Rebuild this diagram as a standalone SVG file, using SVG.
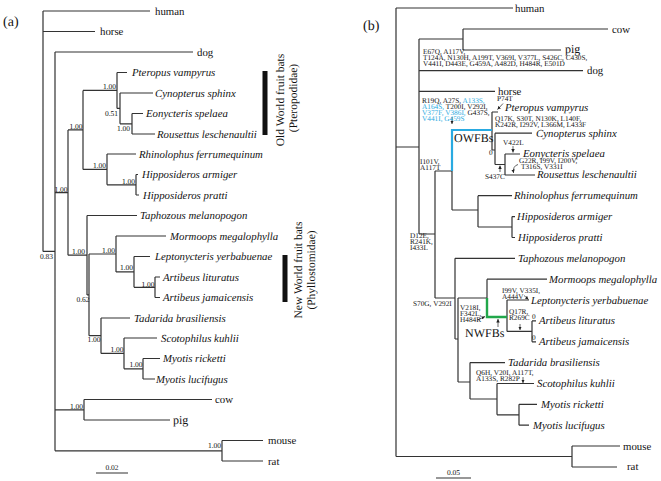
<svg xmlns="http://www.w3.org/2000/svg" width="661" height="481" viewBox="0 0 661 481">
<defs>
<marker id="ah" viewBox="0 0 6 6" refX="6" refY="3" markerUnits="userSpaceOnUse" markerWidth="3.5" markerHeight="3.5" orient="auto"><path d="M0,0 L6,3 L0,6 z" fill="#222"/></marker>
</defs>
<style>
text{font-family:"Liberation Serif","Times New Roman",serif;fill:#111;text-rendering:geometricPrecision}
.sp{font-size:10.8px;font-style:italic}
.cn{font-size:10.8px}
.pg{font-size:12px}
.bs{font-size:7.5px}
.bsr{font-size:7.5px;text-anchor:end}
.mu{font-size:7.3px}
.bl{fill:#29aae1}
.pl{font-size:14px}
.cl{font-size:11.5px;text-anchor:middle}
.big{font-size:12px}
.br{stroke:#333;stroke-width:1.2;fill:none}
.ow{stroke:#29aae1;stroke-width:2.2;fill:none}
.nw{stroke:#21a74a;stroke-width:2.4;fill:none}
.ar{stroke:#222;stroke-width:0.7;fill:none;marker-end:url(#ah)}
</style>
<rect width="661" height="481" fill="#fff"/>

<!-- ================= PANEL A ================= -->
<g id="a-connectors">
<path class="br" d="M43 11V251.4M43 11H150M43 31.5H95M43 251.4H55
M55 52V450.8M55 52H193M55 192.6H68M55 409.8H84M55 450.8H222
M68 129.9V255.2M68 129.9H83M68 255.2H87
M83 90.4V169.4M83 90.4H117M83 169.4H107
M117 72.5V108.4M117 72.5H127M117 108.4H120
M120 93V123.8M120 93H153M120 123.8H132
M132 113.5V134M132 113.5H143M132 134H155
M107 154V184.8M107 154H136M107 184.8H136
M136 174.5V195M136 174.5H138M136 195H139
M87 215.5V294.9M87 215.5H137M87 294.9H89
M89 254V335.7M89 254H116M89 335.7H101
M116 236V271.9M116 236H166M116 271.9H134
M134 256.5V287.3M134 256.5H150M134 287.3H155
M155 277V297.5M155 277H160M155 297.5H160
M101 318V353.4M101 318H130M101 353.4H124
M124 338V368.8M124 338H157M124 368.8H143
M143 358.5V379M143 358.5H160M143 379H155
M84 399.5V420M84 399.5H212M84 420H170
M222 440.5V461M222 440.5H263M222 461H263
M96 473H128"/>
</g>
<g id="a-support">
<text class="bsr" x="130" y="131">1.00</text>
<text class="bsr" x="118" y="116">0.51</text>
<text class="bsr" x="116" y="89">1.00</text>
<text class="bsr" x="135" y="183.5">1.00</text>
<text class="bsr" x="106" y="168">1.00</text>
<text class="bsr" x="82.5" y="129">1.00</text>
<text class="bsr" x="154.5" y="286.5">1.00</text>
<text class="bsr" x="133" y="270">1.00</text>
<text class="bsr" x="115" y="253">1.00</text>
<text class="bsr" x="142.5" y="367">1.00</text>
<text class="bsr" x="123.5" y="352">1.00</text>
<text class="bsr" x="100.5" y="341.5">1.00</text>
<text class="bsr" x="89.5" y="302">0.62</text>
<text class="bsr" x="85" y="253.5">1.00</text>
<text class="bsr" x="67.5" y="191.5">1.00</text>
<text class="bsr" x="83" y="408.5">1.00</text>
<text class="bsr" x="221" y="448">1.00</text>
<text class="bsr" x="53" y="258.5">0.83</text>
<text class="bs" x="112" y="470" text-anchor="middle">0.02</text>
</g>
<text id="label-a" class="pl" x="3" y="26">(a)</text>
<g id="a-human"><text class="cn" x="155" y="14.5">human</text></g>
<g id="a-horse"><text class="cn" x="100" y="35">horse</text></g>
<g id="a-dog"><text class="cn" x="197" y="55.5">dog</text></g>
<g id="a-pteropus"><text class="sp" x="132" y="76">Pteropus vampyrus</text></g>
<g id="a-cynopterus"><text class="sp" x="155" y="96.5">Cynopterus sphinx</text></g>
<g id="a-eonycteris"><text class="sp" x="146" y="117">Eonycteris spelaea</text></g>
<g id="a-rousettus"><text class="sp" x="157" y="137.5">Rousettus leschenaultii</text></g>
<g id="a-rhinolophus"><text class="sp" x="139" y="157.5">Rhinolophus ferrumequinum</text></g>
<g id="a-harmiger"><text class="sp" x="142" y="178">Hipposideros armiger</text></g>
<g id="a-hpratti"><text class="sp" x="143" y="198.5">Hipposideros pratti</text></g>
<g id="a-taphozous"><text class="sp" x="140" y="219">Taphozous melanopogon</text></g>
<g id="a-mormoops"><text class="sp" x="170" y="239.5">Mormoops megalophylla</text></g>
<g id="a-leptonycteris"><text class="sp" x="155" y="260">Leptonycteris yerbabuenae</text></g>
<g id="a-alituratus"><text class="sp" x="163" y="280.5">Artibeus lituratus</text></g>
<g id="a-ajamaicensis"><text class="sp" x="163" y="301">Artibeus jamaicensis</text></g>
<g id="a-tadarida"><text class="sp" x="134" y="321.5">Tadarida brasiliensis</text></g>
<g id="a-scotophilus"><text class="sp" x="161" y="341.5">Scotophilus kuhlii</text></g>
<g id="a-mricketti"><text class="sp" x="163" y="362">Myotis ricketti</text></g>
<g id="a-mlucifugus"><text class="sp" x="156" y="382.5">Myotis lucifugus</text></g>
<g id="a-cow"><text class="cn" x="215" y="403">cow</text></g>
<g id="a-pig"><text class="pg" x="173" y="423.5">pig</text></g>
<g id="a-mouse"><text class="cn" x="268" y="444">mouse</text></g>
<g id="a-rat"><text class="cn" x="268" y="464.5">rat</text></g>
<g id="a-owfb">
<rect x="262.5" y="71" width="5" height="64" fill="#111"/>
<text class="cl" transform="translate(284,100) rotate(-90)">Old World fruit bats</text>
<text class="cl" transform="translate(297,98) rotate(-90)">(Pteropodidae)</text>
</g>
<g id="a-nwfb">
<rect x="282.5" y="255" width="5" height="47" fill="#111"/>
<text class="cl" transform="translate(301.5,270) rotate(-90)">New World fruit bats</text>
<text class="cl" transform="translate(315,270) rotate(-90)">(Phyllostomidae)</text>
</g>

<!-- ================= PANEL B ================= -->
<g id="b-connectors">
<path class="br" d="M396 8V456.5M396 8H513M396 147H419M396 456.5H572
M572 446V467M572 446H620M572 467H617
M419 39V234M419 39H463M419 70.6H583M419 91.4H495M419 234H435
M463 29V50M463 29H608M463 50H561
M435 171V298M435 171H452M435 298H455
M452 171V210M452 210H478
M492 112V150M492 112H498M492 150H495
M495 133.2V164.5M495 133.2H532M495 164.5H505
M505 154V175M505 154H520M505 175H535
M478 195.7V227M478 195.7H512M478 227H512
M512 216.6V237.5M512 216.6H515M512 237.5H515
M455 258.3V339M455 258.3H515M455 339H458
M458 298V382M458 298H487M458 382H470
M487 279.2V298M487 279.2H547
M507 300V331.4M507 300H529M507 331.4H532
M532 320.9V341.8M532 320.9H536M532 341.8H536
M470 362.6V399M470 362.6H505M470 399H497
M497 383.5V414.8M497 383.5H534M497 414.8H519
M519 404.3V425.2M519 404.3H537M519 425.2H529
M436 478H471"/>
<path class="ow" d="M452 171V130H492"/>
<path class="nw" d="M487 298V317H507"/>
<path class="ar" d="M452 117V124"/>
<path class="ar" d="M503 103.5L497.5 109.5"/>
<path class="ar" d="M513 146V152.5"/>
<path class="ar" d="M518 164.5Q512.5 166 513.5 173"/>
<path class="ar" d="M500 172V165.5"/>
<path class="ar" d="M477.5 320L485 316.5"/>
<path class="ar" d="M498 327V319"/>
<path class="ar" d="M524 295.5L528.5 299.5"/>
<path class="ar" d="M520 324V330"/>
<path class="ar" d="M523 377V383"/>
</g>
<text id="label-b" class="pl" x="363" y="30">(b)</text>
<g id="b-mutations">
<text class="mu" x="423" y="54">E67Q, A117V,</text>
<text class="mu" x="423" y="60">T124A, N130H, A199T, V369I, V377L, S426C, C430S,</text>
<text class="mu" x="423" y="66">V441I, D443E, G459A, A482D, H484R, E501D</text>
<text class="mu" x="422" y="103">R19Q, A27S, <tspan class="bl">A133S,</tspan></text>
<text class="mu" x="422" y="109"><tspan class="bl">A164S,</tspan> T200I, V292I,</text>
<text class="mu" x="422" y="115"><tspan class="bl">V377F, V386I,</tspan> G437S,</text>
<text class="mu bl" x="422" y="121">V441I, G459S</text>
<text class="mu" x="497" y="101">P74T</text>
<text class="mu" x="495" y="120.5">Q17K, S30T, N130K, L140F,</text>
<text class="mu" x="495" y="126.5">K242R, I292V, L366M, L433F</text>
<text class="mu" x="503" y="145">V422L</text>
<text class="mu" x="489" y="155">0</text>
<text class="mu" x="519" y="163">G22R, I99V, I200V,</text>
<text class="mu" x="521" y="168.5">T316S, V331I</text>
<text class="mu" x="485" y="178.5">S437C</text>
<text class="mu" x="420" y="163.5">I101V,</text>
<text class="mu" x="420" y="169.5">A117T</text>
<text class="mu" x="410" y="237.5">D12E,</text>
<text class="mu" x="410" y="243.5">R241K,</text>
<text class="mu" x="410" y="249.5">I433L</text>
<text class="mu" x="413" y="305.5">S70G, V292I</text>
<text class="mu" x="460" y="309.5">V218I,</text>
<text class="mu" x="460" y="315.5">F342L,</text>
<text class="mu" x="460" y="321.5">H484R</text>
<text class="mu" x="502" y="292.5">I99V, V335I,</text>
<text class="mu" x="502" y="298.5">A444V</text>
<text class="mu" x="509" y="314">Q17R,</text>
<text class="mu" x="509" y="320">R269C</text>
<text class="mu" x="532" y="319">0</text>
<text class="mu" x="532" y="340">0</text>
<text class="mu" x="476" y="374.5">Q6H, V20I, A117T,</text>
<text class="mu" x="476" y="380.5">A133S, R282P</text>
<text class="bs" x="453.5" y="475" text-anchor="middle">0.05</text>
</g>
<g id="b-owfbs"><text class="big" x="454" y="141.5">OWFBs</text></g>
<g id="b-nwfbs"><text class="big" x="465" y="337">NWFBs</text></g>
<g id="b-human"><text class="cn" x="515" y="11.5">human</text></g>
<g id="b-cow"><text class="cn" x="612" y="32.5">cow</text></g>
<g id="b-pig"><text class="pg" x="565" y="53">pig</text></g>
<g id="b-dog"><text class="cn" x="587" y="74">dog</text></g>
<g id="b-horse"><text class="cn" x="498" y="95">horse</text></g>
<g id="b-pteropus"><text class="sp" x="505" y="111">Pteropus vampyrus</text></g>
<g id="b-cynopterus"><text class="sp" x="536" y="136.7">Cynopterus sphinx</text></g>
<g id="b-eonycteris"><text class="sp" x="523" y="156.5">Eonycteris spelaea</text></g>
<g id="b-rousettus"><text class="sp" x="537" y="178.4">Rousettus leschenaultii</text></g>
<g id="b-rhinolophus"><text class="sp" x="514" y="199.2">Rhinolophus ferrumequinum</text></g>
<g id="b-harmiger"><text class="sp" x="517" y="220">Hipposideros armiger</text></g>
<g id="b-hpratti"><text class="sp" x="518" y="241">Hipposideros pratti</text></g>
<g id="b-taphozous"><text class="sp" x="518" y="261.8">Taphozous melanopogon</text></g>
<g id="b-mormoops"><text class="sp" x="549" y="282.7">Mormoops megalophylla</text></g>
<g id="b-leptonycteris"><text class="sp" x="531" y="303.5">Leptonycteris yerbabuenae</text></g>
<g id="b-alituratus"><text class="sp" x="539" y="324.4">Artibeus lituratus</text></g>
<g id="b-ajamaicensis"><text class="sp" x="539" y="345.3">Artibeus jamaicensis</text></g>
<g id="b-tadarida"><text class="sp" x="508" y="366">Tadarida brasiliensis</text></g>
<g id="b-scotophilus"><text class="sp" x="537" y="387">Scotophilus kuhlii</text></g>
<g id="b-mricketti"><text class="sp" x="541" y="407.8">Myotis ricketti</text></g>
<g id="b-mlucifugus"><text class="sp" x="533" y="428.7">Myotis lucifugus</text></g>
<g id="b-mouse"><text class="cn" x="623" y="449.6">mouse</text></g>
<g id="b-rat"><text class="cn" x="627" y="470.4">rat</text></g>
</svg>
